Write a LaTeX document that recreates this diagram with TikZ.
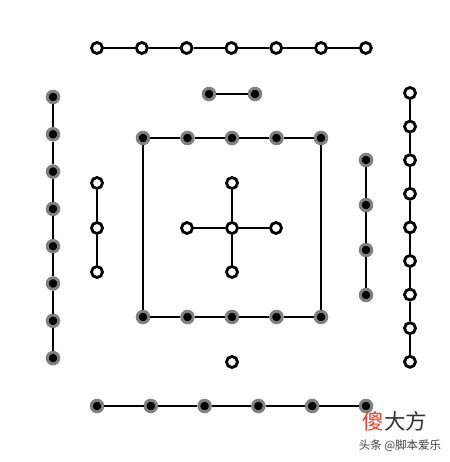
\documentclass[tikz,border=0pt]{standalone}
\usepackage{fontspec}
\newfontfamily\cjk{Noto Sans CJK SC}
\usepackage{tikz}

\begin{document}
\begin{tikzpicture}[x=1pt, y=-1pt]
	\tikzset{open/.style = {shape=circle, draw, fill=white, line width=2.8pt, minimum size=11pt, inner sep=0pt}}
	\tikzset{full/.style = {shape=circle, draw=gray, fill=black, line width=3pt, minimum size=11.5pt, inner sep=0pt}}
	\tikzset{edge/.style = {line width=1.4pt}}
	\useasboundingbox (0, 0) rectangle (449, 462);
	% top row
	\foreach \i in {1,...,7}
		\node[open] (t\i) at ({97+44.8*(\i-1)}, 48) {};
	\foreach \i [count=\j from 2] in {1,...,6}
		\draw[edge] (t\i) to (t\j);
	% left column
	\foreach \i in {1,...,8}
		\node[full] (l\i) at (53, {97+37.3*(\i-1)}) {};
	\foreach \i [count=\j from 2] in {1,...,7}
		\draw[edge] (l\i) to (l\j);
	% right column
	\foreach \i in {1,...,9}
		\node[open] (r\i) at (410, {93+33.6*(\i-1)}) {};
	\foreach \i [count=\j from 2] in {1,...,8}
		\draw[edge] (r\i) to (r\j);
	% short piece
	\node[full] (a) at (209, 94) {};
	\node[full] (b) at (255, 94) {};
	\draw[edge] (a) to (b);
	% square
	\foreach \i in {1,...,5} {
		\node[full] (q\i) at ({143+44.5*(\i-1)}, 138) {};
		\node[full] (p\i) at ({143+44.5*(\i-1)}, 317) {};
	}
	\foreach \i [count=\j from 2] in {1,...,4} {
		\draw[edge] (q\i) to (q\j);
		\draw[edge] (p\i) to (p\j);
	}
	\draw[edge] (q1) to (p1);
	\draw[edge] (q5) to (p5);
	% cross
	\node[open] (c) at (232, 228) {};
	\node[open] (cn) at (232, 183) {};
	\node[open] (cs) at (232, 272) {};
	\node[open] (cw) at (187, 228) {};
	\node[open] (ce) at (276, 228) {};
	\draw[edge] (c) to (cn);
	\draw[edge] (c) to (cs);
	\draw[edge] (c) to (cw);
	\draw[edge] (c) to (ce);
	% small columns
	\foreach \i/\y in {1/183, 2/228, 3/272}
		\node[open] (m\i) at (97, \y) {};
	\draw[edge] (m1) to (m2);
	\draw[edge] (m2) to (m3);
	\foreach \i/\y in {1/160, 2/205, 3/250, 4/295}
		\node[full] (n\i) at (366, \y) {};
	\foreach \i [count=\j from 2] in {1,...,3}
		\draw[edge] (n\i) to (n\j);
	% lone dot
	\node[open] (z) at (232, 362) {};
	% bottom row
	\foreach \i in {1,...,6}
		\node[full] (u\i) at ({97+53.8*(\i-1)}, 406) {};
	\foreach \i [count=\j from 2] in {1,...,5}
		\draw[edge] (u\i) to (u\j);
	% watermark
	\node[font=\cjk\fontsize{21.5}{21.5}\selectfont, text=black!80, inner sep=0pt] (logo) at (395, 421) {\textcolor[HTML]{E8402A}{傻}大方};
	\node[font=\cjk\fontsize{11.5}{11.5}\selectfont, text=black!75, inner sep=0pt] (sign) at (400, 446) {头条 @脚本爱乐};
\end{tikzpicture}
\end{document}
